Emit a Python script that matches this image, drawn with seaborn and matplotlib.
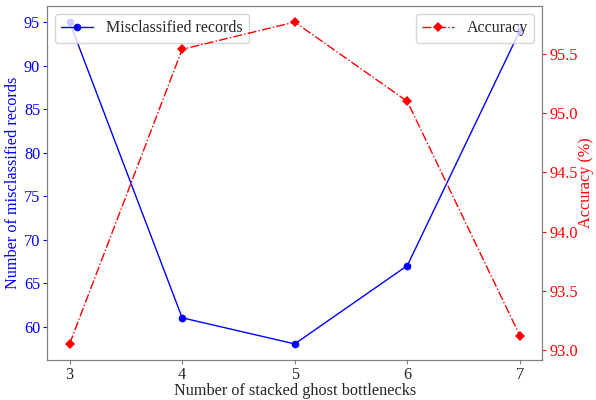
import numpy as np
import pandas as pd
import seaborn as sns
import matplotlib
matplotlib.use("Agg")
import matplotlib.pyplot as plt

# data
bottlenecks = [3, 4, 5, 6, 7]
misclassified = [95, 61, 58, 67, 94]
accuracy = [93.05, 95.54, 95.77, 95.10, 93.12]

sns.set_style("white")
plt.rcParams['font.family'] = ['Liberation Serif', 'DejaVu Serif']

df = pd.DataFrame({"n": bottlenecks, "mis": misclassified, "acc": accuracy})

fs = 11.7
fig, ax = plt.subplots(figsize=(5.96, 4.0), dpi=100)
ax2 = ax.twinx()

sns.lineplot(data=df, x="n", y="mis", ax=ax, color="blue", marker="o",
             markersize=5.5, markeredgewidth=0, linewidth=1.0,
             label="Misclassified records")
sns.lineplot(data=df, x="n", y="acc", ax=ax2, color="red", marker="D",
             markersize=5.5, markeredgewidth=0, linewidth=1.0, linestyle="-.",
             label="Accuracy")

ax.set_xlabel("Number of stacked ghost bottlenecks", fontsize=fs, labelpad=0)
ax.set_ylabel("Number of misclassified records", fontsize=fs, color="blue", labelpad=2)
ax2.set_ylabel("Accuracy (%)", fontsize=fs, color="red", labelpad=0)
ax.set_xticks(bottlenecks)

ax.tick_params(axis="x", labelsize=fs, length=3, pad=2, bottom=True, color="gray")
ax.tick_params(axis="y", labelsize=fs, labelcolor="blue", colors="blue", left=True, length=3, pad=2)
ax2.tick_params(axis="y", labelsize=fs, labelcolor="red", colors="red", right=True, length=3, pad=2)
ax2.yaxis.set_major_formatter(matplotlib.ticker.FormatStrFormatter("%.1f"))

for a in (ax, ax2):
    for s in a.spines.values():
        s.set_color("gray")

ax.legend(loc="upper left", fontsize=11.5)
ax2.legend(loc="upper right", fontsize=11.5)

fig.subplots_adjust(left=0.079, right=0.91, top=0.985, bottom=0.1)
fig.savefig("out.png", dpi=100)
